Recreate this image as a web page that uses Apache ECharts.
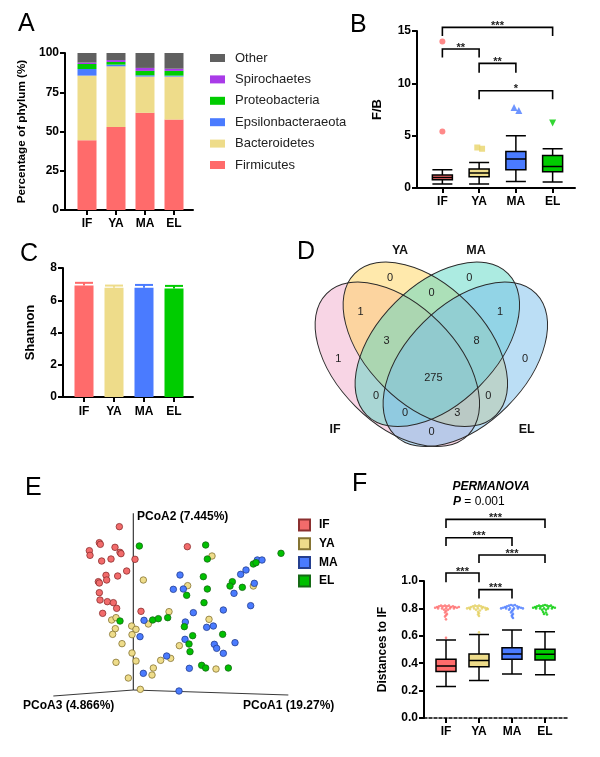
<!DOCTYPE html>
<html><head><meta charset="utf-8">
<script src="https://cdn.jsdelivr.net/npm/echarts@6/dist/echarts.min.js"></script>
<style>html,body{margin:0;padding:0;background:#fff}#c{width:600px;height:757px}</style>
</head><body><div id="c"></div>
<script>
// ---------- shared ----------
const groups = ['IF', 'YA', 'MA', 'EL'];
const groupColors = ['#FF6B6B', '#EEDC8A', '#4A7BFF', '#00CC00'];

// ---------- A: phylum composition (%) ----------
const phyla = ['Firmicutes', 'Bacteroidetes', 'Epsilonbacteraeota', 'Proteobacteria', 'Spirochaetes', 'Other'];
const phylumColors = ['#FF6B6B', '#EEDC8A', '#4A7BFF', '#00CC00', '#A93BE8', '#606060'];
const firmicutes = [44.5, 52.8, 61.9, 57.6];
const bacteroidetes = [41.1, 38.7, 23.1, 27.4];
const epsilonbacteraeota = [4.2, 1.1, 0.8, 0.6];
const proteobacteria = [3.2, 1.7, 2.8, 3.0];
const spirochaetes = [0.9, 1.2, 1.9, 1.4];
const otherPhyla = [6.1, 4.5, 9.5, 10.0];
const phylumValues = [firmicutes, bacteroidetes, epsilonbacteraeota, proteobacteria, spirochaetes, otherPhyla];
const phylumLegendOrder = ['Other', 'Spirochaetes', 'Proteobacteria', 'Epsilonbacteraeota', 'Bacteroidetes', 'Firmicutes'];

// ---------- B: F/B ratio ----------
const fbBox = [[0.38, 0.80, 1.00, 1.24, 1.75], [0.38, 1.08, 1.43, 1.81, 2.44], [0.63, 1.75, 2.76, 3.49, 5.00], [0.57, 1.56, 2.06, 3.11, 3.75]];
const fbOutIF = [[0, 5.4], [0, 14.0]];
const fbOutYA = [[0.95, 3.87], [1.08, 3.75]];
const fbOutMA = [[1.95, 7.7], [2.08, 7.4]];
const fbOutEL = [[3, 6.2]];
const fbBrackets = [[0, 3, 15.35, 14.52], [0, 1, 13.28, 12.48], [1, 2, 11.91, 11.01], [1, 3, 9.29, 8.47]];
const fbStars = ['***', '**', '**', '*'];

// ---------- C: Shannon ----------
const shannonMean = [6.91, 6.77, 6.77, 6.73];
const shannonSE = [0.17, 0.14, 0.18, 0.16];

// ---------- D: Venn ----------
const vennCounts = [0, 0, 0, 1, 1, 3, 8, 1, 0, 275, 0, 0, 0, 3, 0];

// ---------- E: PCoA (projected coordinates) ----------
const pcoaIF = [[358,170],[298,218],[301,223],[345,232],[360,247],[363,251],[268,242],[270,256],[305,273],[333,267],[405,268],[380,303],[353,318],[318,316],[320,330],[295,335],[298,339],[298,368],[300,390],[322,395],[340,398],[350,415],[308,430],[423,424],[562,230]];
const pcoaYA = [[636,258],[430,330],[563,347],[760,348],[507,425],[627,448],[335,450],[348,443],[445,462],[395,468],[408,478],[346,476],[338,493],[396,494],[366,521],[538,527],[396,549],[408,573],[348,577],[482,571],[512,565],[460,594],[456,615],[385,624],[421,658],[648,597]];
const pcoaMA = [[772,270],[786,270],[738,300],[722,313],[763,340],[702,370],[752,407],[540,315],[520,358],[550,357],[670,420],[580,428],[432,451],[556,456],[620,472],[640,468],[420,500],[555,508],[643,523],[650,535],[670,550],[705,518],[500,558],[568,595],[430,610],[537,663]];
const pcoaEL = [[418,228],[617,225],[622,267],[843,250],[760,282],[768,278],[610,320],[697,335],[690,348],[727,352],[622,357],[560,376],[612,398],[360,453],[458,450],[475,446],[503,443],[553,470],[578,497],[567,522],[570,545],[668,493],[605,586],[617,594],[685,594]];
const pcoaAxisNames = ['PCoA2 (7.445%)', 'PCoA3 (4.866%)', 'PCoA1 (19.27%)'];

// ---------- F: distances to IF ----------
const distBox = [[0.23, 0.339, 0.38, 0.429, 0.569], [0.274, 0.375, 0.419, 0.467, 0.61], [0.322, 0.429, 0.467, 0.513, 0.642], [0.315, 0.424, 0.465, 0.501, 0.63]];
const distDotsIF = [[-0.33,0.805],[-0.27,0.81],[-0.21,0.815],[-0.15,0.82],[-0.09,0.815],[-0.03,0.82],[0.03,0.815],[0.09,0.82],[0.15,0.81],[0.21,0.815],[0.27,0.81],[0.33,0.805],[0.39,0.81],[-0.24,0.80],[-0.12,0.80],[0.0,0.80],[0.12,0.80],[0.24,0.80],[-0.06,0.79],[0.06,0.79],[0.0,0.78],[-0.03,0.77],[0.03,0.76],[0.0,0.75],[-0.03,0.74],[0.0,0.72],[0.0,0.585]];
const distDotsYA = [[-0.36,0.80],[-0.3,0.805],[-0.24,0.81],[-0.18,0.815],[-0.12,0.82],[-0.06,0.815],[0,0.82],[0.06,0.815],[0.12,0.81],[0.18,0.805],[0.24,0.80],[0.27,0.795],[-0.27,0.795],[-0.15,0.80],[-0.03,0.80],[0.09,0.80],[0.21,0.79],[-0.09,0.79],[0.03,0.785],[-0.03,0.775],[0.0,0.765],[-0.03,0.755],[0.0,0.745],[0.0,0.625]];
const distDotsMA = [[-0.33,0.80],[-0.27,0.805],[-0.21,0.81],[-0.15,0.815],[-0.09,0.82],[-0.03,0.825],[0.03,0.82],[0.09,0.825],[0.15,0.815],[0.21,0.81],[0.27,0.805],[0.33,0.80],[-0.18,0.80],[-0.06,0.80],[0.06,0.80],[0.18,0.80],[-0.09,0.79],[0.03,0.79],[0.0,0.78],[-0.03,0.77],[0.03,0.76],[0.0,0.75],[0.0,0.74],[0.03,0.73]];
const distDotsEL = [[-0.36,0.805],[-0.3,0.81],[-0.24,0.815],[-0.18,0.82],[-0.12,0.815],[-0.06,0.82],[0,0.825],[0.06,0.82],[0.12,0.815],[0.18,0.82],[0.24,0.81],[0.3,0.805],[-0.27,0.80],[-0.15,0.80],[-0.03,0.80],[0.09,0.80],[0.21,0.80],[-0.09,0.79],[0.03,0.79],[-0.06,0.775],[0.03,0.77],[-0.03,0.76],[0.06,0.755]];
const distBrackets = [[0, 3, 1.450, 1.387], [0, 2, 1.316, 1.255], [1, 3, 1.190, 1.131], [0, 1, 1.058, 0.990], [1, 2, 0.937, 0.872]];
const distStars = ['***', '***', '***', '***', '***'];

// ================= layout / styling =================
const FONT = '"Liberation Sans", Arial, sans-serif';
const BLACK = '#000';

// Venn layout (geometry in a 930 x 780 frame)
const vennEllipses = [
  {cx: 322, cy: 403, rot: -45, fill: 'rgba(238,150,190,0.40)'},
  {cx: 406, cy: 343, rot: -45, fill: 'rgba(255,212,90,0.50)'},
  {cx: 442, cy: 343, rot: 45, fill: 'rgba(90,215,195,0.50)'},
  {cx: 526, cy: 403, rot: 45, fill: 'rgba(120,190,235,0.50)'}
];
const vennAxes = [300, 178];
const vennCountPos = [[300,145],[538,145],[425,190],[212,245],[630,245],[290,333],[560,333],[145,388],[705,388],[430,443],[258,497],[595,497],[345,548],[502,550],[425,607]];
const vennNamePos = [[135,600],[330,62],[558,62],[710,600]];
const pcoaAxisLines = [[[400,130],[400,660]], [[400,660],[160,678]], [[400,660],[865,675]]];
const pcoaStyle = [
  {fill: '#F26B6B', border: '#8B3030'},
  {fill: '#EEDC8A', border: '#857433'},
  {fill: '#4A7BFF', border: '#253F8F'},
  {fill: '#00C000', border: '#166A16'}
];

const grids = [
  {left: 65, top: 53, width: 128, height: 157},    // 0 A frame
  {left: 72.5, top: 53, width: 116, height: 157},  // 1 A data
  {left: 417, top: 31, width: 158, height: 157},   // 2 B frame
  {left: 424, top: 31, width: 147, height: 157},   // 3 B data
  {left: 63, top: 268, width: 130, height: 129},   // 4 C frame
  {left: 69, top: 268, width: 120, height: 129},   // 5 C data
  {left: 424, top: 581, width: 143, height: 137},  // 6 F frame
  {left: 429.5, top: 581, width: 132, height: 137},// 7 F data
  {left: 290, top: 230, width: 310, height: 260},  // 8 D
  {left: 0, top: 470, width: 310, height: 287}     // 9 E
];

const boldText = {fontFamily: FONT, fontWeight: 'bold', fontSize: 12, color: BLACK};

function frameX(gi, dashed) {
  return {type: 'category', gridIndex: gi, data: groups,
    axisLine: {show: true, lineStyle: {color: BLACK, width: dashed ? 1.5 : 2, type: dashed ? [3, 2] : 'solid'}},
    axisTick: {show: false}, axisLabel: {show: false}, splitLine: {show: false}};
}
function dataX(gi, margin) {
  return {type: 'category', gridIndex: gi, data: groups,
    axisLine: {show: false},
    axisTick: {show: true, alignWithLabel: true, length: 5, lineStyle: {color: BLACK, width: 2}},
    axisLabel: Object.assign({margin: margin}, boldText), splitLine: {show: false}};
}
function valX(gi) { return {type: 'value', gridIndex: gi, min: -0.5, max: 3.5, show: false}; }
function frameY(gi, min, max, interval, name, nameGap, nameSize, fmt) {
  return {type: 'value', gridIndex: gi, min: min, max: max, interval: interval,
    name: name, nameLocation: 'middle', nameGap: nameGap,
    nameTextStyle: {fontFamily: FONT, fontWeight: 'bold', fontSize: nameSize, color: BLACK},
    axisLine: {show: true, lineStyle: {color: BLACK, width: 2}},
    axisTick: {show: true, length: 5, lineStyle: {color: BLACK, width: 2}},
    axisLabel: Object.assign({margin: 6, formatter: fmt}, boldText),
    splitLine: {show: false}};
}
function dataY(gi, min, max) { return {type: 'value', gridIndex: gi, min: min, max: max, show: false}; }

const xAxis = [
  frameX(0), dataX(1, 8),                 // 0,1  A
  frameX(2), dataX(3, 8), valX(3),        // 2,3,4 B
  frameX(4), dataX(5, 9), valX(5),        // 5,6,7 C
  frameX(6, true), dataX(7, 8), valX(7),  // 8,9,10 F
  {type: 'value', gridIndex: 8, min: 0, max: 930, show: false},   // 11 D
  {type: 'value', gridIndex: 9, min: 0, max: 930, show: false}    // 12 E
];
const yAxis = [
  frameY(0, 0, 100, 25, 'Percentage of phylum (%)', 37, 11.7), dataY(1, 0, 100),
  frameY(2, 0, 15, 5, 'F/B', 33, 13), dataY(3, 0, 15),
  frameY(4, 0, 8, 2, 'Shannon', 26, 13), dataY(5, 0, 8),
  frameY(6, 0, 1, 0.2, 'Distances to IF', 35, 12, v => v.toFixed(1)), dataY(7, 0, 1),
  {type: 'value', gridIndex: 8, min: 0, max: 780, inverse: true, show: false},
  {type: 'value', gridIndex: 9, min: 0, max: 861, inverse: true, show: false}
];

const series = [];

// A stacked bars
phyla.forEach((p, k) => {
  series.push({type: 'bar', name: p, xAxisIndex: 1, yAxisIndex: 1, stack: 'phylum', barWidth: 19,
    data: phylumValues[k], itemStyle: {color: phylumColors[k]}});
});

// bracket renderer factory
function bracketRenderer(stars, fontSize) {
  return function (params, api) {
    const x1 = api.value(0), x2 = api.value(1), yt = api.value(2), yl = api.value(3);
    const a = api.coord([x1, yl]), b = api.coord([x1, yt]), c = api.coord([x2, yt]), d = api.coord([x2, yl]);
    return {type: 'group', children: [
      {type: 'polyline', shape: {points: [a, b, c, d]}, style: {stroke: BLACK, lineWidth: 1.6, fill: null}},
      {type: 'text', x: (b[0] + c[0]) / 2, y: b[1] - 1.5,
        style: {text: stars[params.dataIndex], align: 'center', verticalAlign: 'middle',
          fill: '#222', fontFamily: FONT, fontSize: fontSize, fontWeight: 'bold'}}
    ]};
  };
}

// B boxplot
series.push({type: 'boxplot', name: 'fb', xAxisIndex: 3, yAxisIndex: 3, boxWidth: [20, 20],
  itemStyle: {borderColor: BLACK, borderWidth: 1.5},
  data: fbBox.map((d, i) => ({value: d, itemStyle: {color: groupColors[i], borderColor: BLACK, borderWidth: 1.5}}))});
series.push({type: 'scatter', name: 'fbIF', xAxisIndex: 4, yAxisIndex: 3, symbol: 'circle', symbolSize: 6, data: fbOutIF, itemStyle: {color: groupColors[0]}});
series.push({type: 'scatter', name: 'fbYA', xAxisIndex: 4, yAxisIndex: 3, symbol: 'rect', symbolSize: 6, data: fbOutYA, itemStyle: {color: '#E8D46A'}});
series.push({type: 'scatter', name: 'fbMA', xAxisIndex: 4, yAxisIndex: 3, symbol: 'triangle', symbolSize: 7, data: fbOutMA, itemStyle: {color: groupColors[2]}});
series.push({type: 'scatter', name: 'fbEL', xAxisIndex: 4, yAxisIndex: 3, symbol: 'triangle', symbolRotate: 180, symbolSize: 7, data: fbOutEL, itemStyle: {color: groupColors[3]}});
series.push({type: 'custom', name: 'fbBr', xAxisIndex: 4, yAxisIndex: 3, clip: false, data: fbBrackets, renderItem: bracketRenderer(fbStars, 11)});

// C bars + error bars
series.push({type: 'bar', name: 'shannon', xAxisIndex: 6, yAxisIndex: 5, barWidth: 19,
  data: shannonMean.map((v, i) => ({value: v, itemStyle: {color: groupColors[i]}}))});
series.push({type: 'custom', name: 'shannonErr', xAxisIndex: 7, yAxisIndex: 5,
  data: shannonMean.map((m, i) => [i, m, m + shannonSE[i]]),
  renderItem: function (params, api) {
    const b = api.coord([api.value(0), api.value(1)]), t = api.coord([api.value(0), api.value(2)]);
    const col = groupColors[params.dataIndex];
    return {type: 'group', children: [
      {type: 'line', shape: {x1: b[0], y1: b[1], x2: t[0], y2: t[1]}, style: {stroke: col, lineWidth: 2}},
      {type: 'line', shape: {x1: t[0] - 9, y1: t[1], x2: t[0] + 9, y2: t[1]}, style: {stroke: col, lineWidth: 2}}
    ]};
  }});

// F boxplot + dots + brackets
series.push({type: 'boxplot', name: 'dist', xAxisIndex: 9, yAxisIndex: 7, boxWidth: [20, 20],
  itemStyle: {borderColor: BLACK, borderWidth: 1.5},
  data: distBox.map((d, i) => ({value: d, itemStyle: {color: groupColors[i], borderColor: BLACK, borderWidth: 1.5}}))});
[distDotsIF, distDotsYA, distDotsMA, distDotsEL].forEach((arr, i) => {
  series.push({type: 'scatter', name: 'dots' + i, xAxisIndex: 10, yAxisIndex: 7, symbolSize: 2.6,
    data: arr.map(p => [i + p[0], p[1]]), itemStyle: {color: i === 1 ? '#E3CF5E' : groupColors[i]}});
});
series.push({type: 'custom', name: 'distBr', xAxisIndex: 10, yAxisIndex: 7, clip: false, data: distBrackets, renderItem: bracketRenderer(distStars, 11)});

// D Venn
function ellipseItem(withFill) {
  return function (params, api) {
    const e = vennEllipses[params.dataIndex];
    const c = api.coord([api.value(0), api.value(1)]);
    const s = api.size([vennAxes[0] * 2, vennAxes[1] * 2]);
    return {type: 'ellipse', x: c[0], y: c[1], rotation: e.rot * Math.PI / 180,
      shape: {cx: 0, cy: 0, rx: s[0] / 2, ry: s[1] / 2},
      style: withFill ? {fill: e.fill, stroke: null} : {fill: null, stroke: '#2b2b2b', lineWidth: 1}};
  };
}
series.push({type: 'custom', name: 'vennFill', xAxisIndex: 11, yAxisIndex: 8, data: vennEllipses.map(e => [e.cx, e.cy]), renderItem: ellipseItem(true)});
series.push({type: 'custom', name: 'vennLine', xAxisIndex: 11, yAxisIndex: 8, data: vennEllipses.map(e => [e.cx, e.cy]), renderItem: ellipseItem(false)});
series.push({type: 'custom', name: 'vennCounts', xAxisIndex: 11, yAxisIndex: 8,
  data: vennCountPos.map((p, i) => [p[0], p[1], vennCounts[i]]),
  renderItem: function (params, api) {
    const c = api.coord([api.value(0), api.value(1)]);
    return {type: 'text', x: c[0], y: c[1], style: {text: String(vennCounts[params.dataIndex]), align: 'center', verticalAlign: 'middle', fill: '#222', fontFamily: FONT, fontSize: 11}};
  }});
series.push({type: 'custom', name: 'vennNames', xAxisIndex: 11, yAxisIndex: 8,
  data: vennNamePos,
  renderItem: function (params, api) {
    const c = api.coord([api.value(0), api.value(1)]);
    return {type: 'text', x: c[0], y: c[1], style: {text: groups[params.dataIndex], align: 'center', verticalAlign: 'middle', fill: '#111', fontFamily: FONT, fontSize: 12.5, fontWeight: 'bold'}};
  }});

// E PCoA
pcoaAxisLines.forEach((seg, k) => {
  series.push({type: 'line', name: 'pax' + k, xAxisIndex: 12, yAxisIndex: 9, data: seg, symbol: 'none',
    lineStyle: {color: '#3a3a3a', width: 1.2}, z: 1, silent: true});
});
[pcoaIF, pcoaYA, pcoaMA, pcoaEL].forEach((arr, i) => {
  series.push({type: 'scatter', name: groups[i], xAxisIndex: 12, yAxisIndex: 9, symbolSize: 6.5, data: arr, z: 3,
    itemStyle: {color: pcoaStyle[i].fill, borderColor: pcoaStyle[i].border, borderWidth: 0.8, opacity: 1}});
});

// ---------- graphic text ----------
function letter(t, x, y) {
  return {type: 'text', x: x, y: y, style: {text: t, fill: '#000', fontFamily: FONT, fontSize: 25, verticalAlign: 'middle', align: 'left'}};
}
const graphic = [
  letter('A', 18, 24), letter('B', 350, 25), letter('C', 20, 254), letter('D', 297, 252), letter('E', 25, 488), letter('F', 352, 484),
  {type: 'text', x: 137, y: 517, style: {text: pcoaAxisNames[0], fill: '#000', fontFamily: FONT, fontSize: 12, fontWeight: 'bold', verticalAlign: 'middle'}},
  {type: 'text', x: 23, y: 706, style: {text: pcoaAxisNames[1], fill: '#000', fontFamily: FONT, fontSize: 12, fontWeight: 'bold', verticalAlign: 'middle'}},
  {type: 'text', x: 243, y: 706, style: {text: pcoaAxisNames[2], fill: '#000', fontFamily: FONT, fontSize: 12, fontWeight: 'bold', verticalAlign: 'middle'}},
  {type: 'text', x: 491, y: 487, style: {text: 'PERMANOVA', fill: '#000', fontFamily: FONT, fontSize: 12, fontWeight: 'bold', fontStyle: 'italic', align: 'center', verticalAlign: 'middle'}},
  {type: 'text', x: 453, y: 502, style: {text: '{p|P}{v| = 0.001}', verticalAlign: 'middle',
    rich: {p: {fontFamily: FONT, fontSize: 12, fontWeight: 'bold', fontStyle: 'italic', fill: '#000'},
           v: {fontFamily: FONT, fontSize: 12, fill: '#000'}}}}
];

const option = {
  animation: false,
  backgroundColor: '#fff',
  grid: grids,
  xAxis: xAxis,
  yAxis: yAxis,
  legend: [
    {data: phylumLegendOrder, orient: 'vertical', left: 205, top: 45.5, itemWidth: 15, itemHeight: 8, itemGap: 6.4,
      icon: 'rect', selectedMode: false,
      textStyle: {fontFamily: FONT, fontSize: 13, color: '#222', lineHeight: 15, padding: [0, 0, 0, 5]}},
    {data: groups, orient: 'vertical', left: 293, top: 513, itemWidth: 11, itemHeight: 11, itemGap: 4.7,
      icon: 'rect', selectedMode: false,
      textStyle: {fontFamily: FONT, fontSize: 12, fontWeight: 'bold', color: '#000', lineHeight: 14, padding: [0, 0, 0, 4]}}
  ],
  graphic: graphic,
  series: series
};

const chart = echarts.init(document.getElementById('c'), null, {renderer: 'canvas'});
chart.setOption(option);
</script></body></html>
